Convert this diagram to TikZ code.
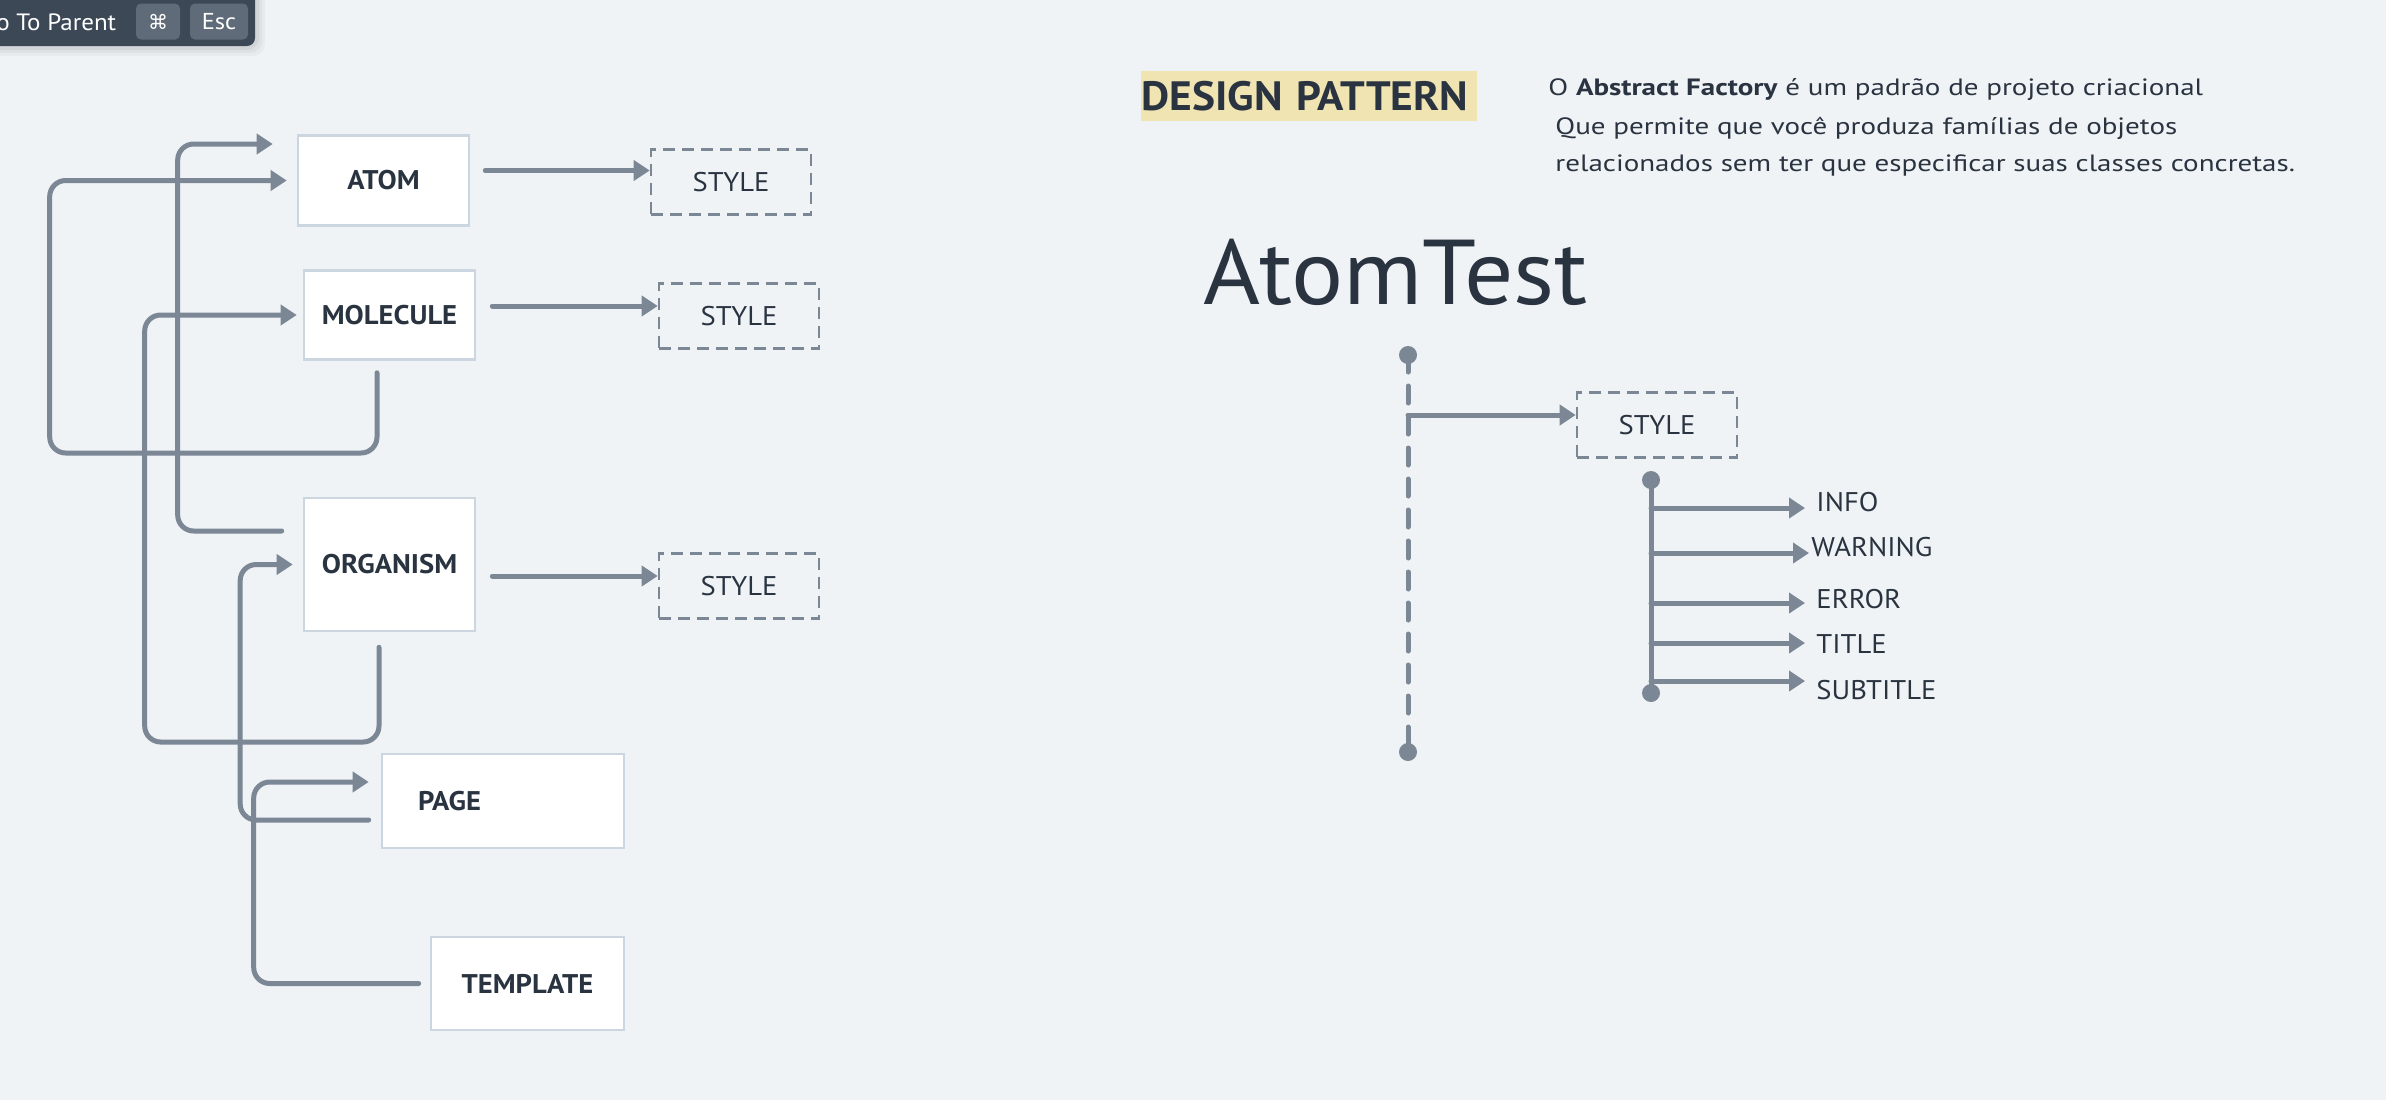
\documentclass[tikz,border=0pt]{standalone}
\usepackage{fontspec}
\setmainfont{PT Sans}[FakeStretch=1.06]
\newfontfamily\parafont{PT Sans}[FakeStretch=1.23]
\newfontfamily\symfont{DejaVu Sans}
\usetikzlibrary{arrows.meta,calc}
\definecolor{bgc}{HTML}{F0F3F6}
\definecolor{linec}{HTML}{7B8794}
\definecolor{boxline}{HTML}{CCD6E0}
\definecolor{txt}{HTML}{2A3441}
\definecolor{hl}{HTML}{F1E4B3}
\definecolor{panel}{HTML}{3C4856}
\definecolor{keyc}{HTML}{5F6B79}
\tikzset{
  conn/.style={draw=linec, line width=2.5pt, line cap=round, rounded corners=8pt, -{Triangle[length=8pt,width=10pt]}},
  plain/.style={draw=linec, line width=2.5pt, line cap=round},
  box/.style={draw=boxline, fill=white, line width=1.3pt, text=txt, font=\fontsize{13.5}{16}\selectfont\bfseries, inner sep=0pt},
  stylebox/.style={draw=linec, dash pattern=on 6pt off 3.5pt, line width=1.3pt, text=txt, font=\fontsize{13.5}{16}\selectfont, minimum width=80pt, minimum height=32.5pt, inner sep=0pt},
  lbl/.style={text=txt, font=\fontsize{13.5}{16}\selectfont, anchor=west, inner xsep=5.5pt, inner ysep=0pt},
  dot/.style={circle, fill=linec, minimum size=9pt, inner sep=0pt},
  para/.style={text=txt, font=\parafont\fontsize{11.8}{14}\selectfont, anchor=base west, inner sep=0pt},
  keybox/.style={fill=keyc, rounded corners=2.5pt, minimum height=18pt, text=white, inner sep=0pt, font=\fontsize{11.5}{14}\selectfont},
}
\begin{document}
\begin{tikzpicture}[x=0.5pt,y=-0.5pt]
\fill[bgc] (0,0) rectangle (2386,1100);
\useasboundingbox (0,0) rectangle (2386,1100);

% overlay panel
\foreach \s/\o in {10/0.03,7/0.04,4/0.05}{
  \fill[black, opacity=\o, rounded corners=6pt] (-20,-20) rectangle (255+\s,46+\s);
}
\fill[panel, rounded corners=4pt] (-20,-20) rectangle (255,46);
\node[anchor=west, text=white, inner sep=0pt, font=\fontsize{11.8}{14}\selectfont] (gtp) at (-4,22) {o To Parent};
\node[keybox, minimum width=22pt] (k1) at (158,21.5) {\symfont\fontsize{10}{12}\selectfont ⌘};
\node[keybox, minimum width=29pt] (k2) at (219,21.5) {Esc};

% left boxes
\node[box, minimum width=85.5pt, minimum height=45pt] (atom) at (383.5,180.5) {ATOM};
\node[box, minimum width=85.5pt, minimum height=44.5pt] (mol) at (389.5,315) {MOLECULE};
\node[box, minimum width=85.5pt, minimum height=66.5pt] (org) at (389.5,564.5) {ORGANISM};
\node[box, minimum width=121pt, minimum height=47pt, text width=85pt, align=left, inner xsep=18pt] (page) at (503,801) {PAGE};
\node[box, minimum width=96.5pt, minimum height=46.5pt] (tmpl) at (527.5,983.5) {TEMPLATE};

\node[stylebox] (s1) at (731,182) {STYLE};
\node[stylebox] (s2) at (739,316) {STYLE};
\node[stylebox] (s3) at (739,586) {STYLE};

% box -> style
\coordinate (a1) at ($(atom.east)+(15,-10)$);
\coordinate (a2) at ($(mol.east)+(16,-9)$);
\coordinate (a3) at ($(org.east)+(16,11.5)$);
\draw[conn] (a1) -- (a1 -| s1.west);
\draw[conn] (a2) -- (a2 -| s2.west);
\draw[conn] (a3) -- (a3 -| s3.west);

% hierarchy connectors
\coordinate (c1) at ($(mol.south)+(-12.5,12)$);
\coordinate (t1) at ($(atom.west)+(-10,0)$);
\draw[conn] (c1) |- ($(t1)+(-237,272.5)$) |- (t1);

\coordinate (c2) at ($(org.west)+(-21,-33.5)$);
\coordinate (t2) at ($(atom.west)+(-24,-36.5)$);
\draw[conn] (c2) -| ($(t2)+(-95,0)$) -- (t2);

\coordinate (c3) at ($(org.south)+(-10.5,15)$);
\coordinate (t3) at ($(mol.west)+(-6,0)$);
\draw[conn] (c3) |- ($(t3)+(-152,427)$) |- (t3);

\coordinate (c4) at ($(page.west)+(-12,19)$);
\coordinate (t4) at ($(org.west)+(-10,0)$);
\draw[conn] (c4) -| ($(t4)+(-52.5,0)$) -- (t4);

\coordinate (c5) at ($(tmpl.west)+(-11,0)$);
\coordinate (t5) at ($(page.west)+(-12,-19)$);
\draw[conn] (c5) -| ($(t5)+(-115,0)$) -- (t5);

% right side
\node[fill=hl, text=txt, font=\fontsize{20.5}{24}\selectfont\bfseries, minimum height=25pt, text width=168pt, inner xsep=0pt, inner ysep=0pt, align=left, anchor=west] (dp) at (1141,96) {DESIGN PATTERN};
\node[para] (p1) at (1548,95) {O \textbf{Abstract Factory} é um padrão de projeto criacional};
\node[para] (p2) at (1555,134) {Que permite que você produza famílias de objetos};
\node[para] (p3) at (1555,171) {relacionados sem ter que especificar suas classes concretas.};
\node[text=txt, font=\fontsize{46}{52}\selectfont, anchor=base west, inner sep=0pt] (title) at (1203,304) {AtomTest};

\node[stylebox] (s4) at (1657,425) {STYLE};

\node[dot] (d1) at (1408,355) {};
\node[dot] (d2) at (1408,752) {};
\draw[plain, dash pattern=on 8.5pt off 7pt] (d1.center) -- (d2.center);
\coordinate (j1) at ($(d1)+(0,60)$);
\draw[conn] (j1) -- (j1 -| s4.west);

\node[dot] (e1) at (1651,480) {};
\node[dot] (e2) at (1651,693) {};
\draw[plain] (e1.center) -- (e2.center);

\node[lbl] (info) at (1805,502) {INFO};
\node[lbl, inner xsep=1pt] (warn) at (1809,547) {WARNING};
\node[lbl] (err) at (1805,599) {ERROR};
\node[lbl] (ttl) at (1805,644) {TITLE};
\node[lbl] (sub) at (1805,690) {SUBTITLE};

\coordinate (b1) at (1651,508);
\coordinate (b2) at (1651,553);
\coordinate (b3) at (1651,603);
\coordinate (b4) at (1651,643);
\coordinate (b5) at (1651,681);
\draw[conn] (b1) -- (b1 -| info.west);
\draw[conn] (b2) -- (b2 -| warn.west);
\draw[conn] (b3) -- (b3 -| err.west);
\draw[conn] (b4) -- (b4 -| ttl.west);
\draw[conn] (b5) -- (b5 -| sub.west);
\end{tikzpicture}
\end{document}
